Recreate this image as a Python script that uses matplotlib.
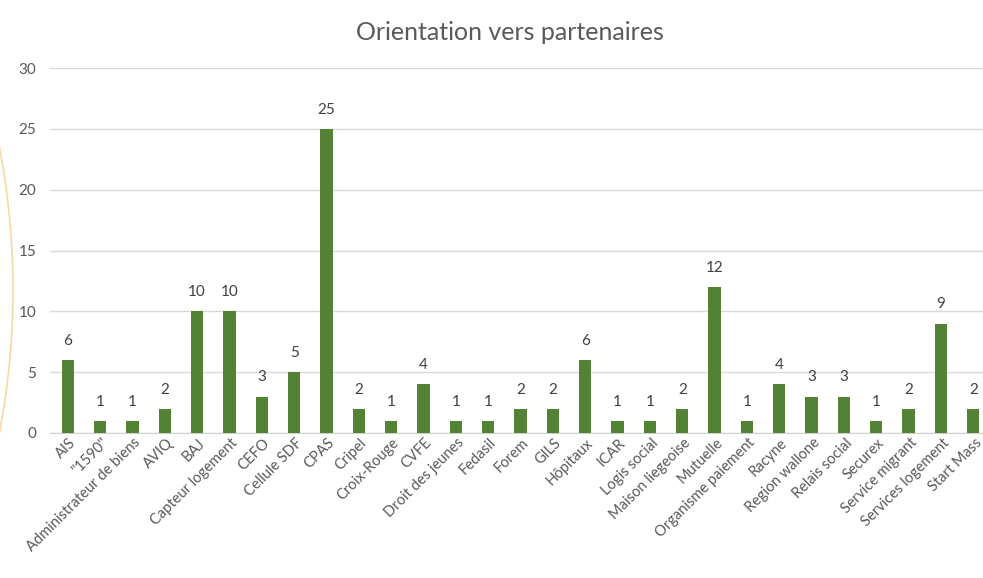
import matplotlib
matplotlib.use('Agg')
import matplotlib.pyplot as plt
from matplotlib.patches import Arc
import matplotlib.transforms as mtransforms
import numpy as np

partenaires = ['AIS', '"1590"', 'Administrateur de biens', 'AVIQ', 'BAJ',
               'Capteur logement', 'CEFO', 'Cellule SDF', 'CPAS', 'Cripel',
               'Croix-Rouge', 'CVFE', 'Droit des jeunes', 'Fedasil', 'Forem',
               'GILS', 'Hôpitaux', 'ICAR', 'Logis social', 'Maison liegeoise',
               'Mutuelle', 'Organisme paiement', 'Racyne', 'Region wallone',
               'Relais social', 'Securex', 'Service migrant',
               'Services logement', 'Start Mass']
orientations = [6, 1, 1, 2, 10, 10, 3, 5, 25, 2, 1, 4, 1, 1, 2, 2, 6, 1, 1, 2,
                12, 1, 4, 3, 3, 1, 2, 9, 2]
yticks = [0, 5, 10, 15, 20, 25, 30]

plt.rcParams['font.family'] = ['Lato', 'DejaVu Sans']

fig = plt.figure(figsize=(9.83, 5.78), dpi=100)

# faint decorative curves of the background
deco = fig.add_axes([0, 0, 1, 1], zorder=-1)
deco.set_xlim(0, 983)
deco.set_ylim(578, 0)
deco.axis('off')
deco.add_patch(Arc((-747, 290), 1520, 1520, theta1=-13, theta2=13,
                   color='#f7cf8c', lw=1.2, alpha=0.8))
deco.add_patch(Arc((260, -300), 700, 700, theta1=300, theta2=330,
                   color='#f9dcaa', lw=1.0, alpha=0.6))
deco.add_patch(Arc((560, -300), 700, 700, theta1=230, theta2=250,
                   color='#f9dcaa', lw=1.0, alpha=0.6))
deco.add_patch(Arc((900, -200), 500, 500, theta1=215, theta2=240,
                   color='#f9dcaa', lw=1.0, alpha=0.6))

ax = fig.add_axes([50/983, 1-433/578, 1-50/983, (433-68)/578])
x = np.arange(len(partenaires))
bars = ax.bar(x, orientations, width=0.38, color='#538135', zorder=3)
for xi, v in zip(x, orientations):
    ax.text(xi, v + 1.0, str(v), ha='center', va='bottom', fontsize=11,
            color='#404040')

ax.set_xlim(-0.55, 28.3)
ax.set_ylim(0, 30)
ax.set_yticks(yticks)
ax.yaxis.grid(True, color='#d9d9d9', lw=1, zorder=0)
for s in ['top', 'right', 'left']:
    ax.spines[s].set_visible(False)
ax.spines['bottom'].set_color('#d0d0d0')
ax.tick_params(axis='y', length=0, labelsize=11, labelcolor='#595959', pad=10)
ax.tick_params(axis='x', length=0, labelsize=10.5, labelcolor='#595959', pad=2)
ax.set_xticks(x)
ax.set_xticklabels(partenaires, rotation=45, ha='right', va='top',
                   rotation_mode='anchor')
shift = mtransforms.ScaledTranslation(1/100, 0, fig.dpi_scale_trans)
for lab in ax.get_xticklabels():
    lab.set_transform(lab.get_transform() + shift)
ax.patch.set_alpha(0)

fig.text(0.519, 1-32/578, 'Orientation vers partenaires', ha='center',
         va='center', fontsize=18, color='#595959')

plt.savefig('out.png', dpi=100)
plt.close()
